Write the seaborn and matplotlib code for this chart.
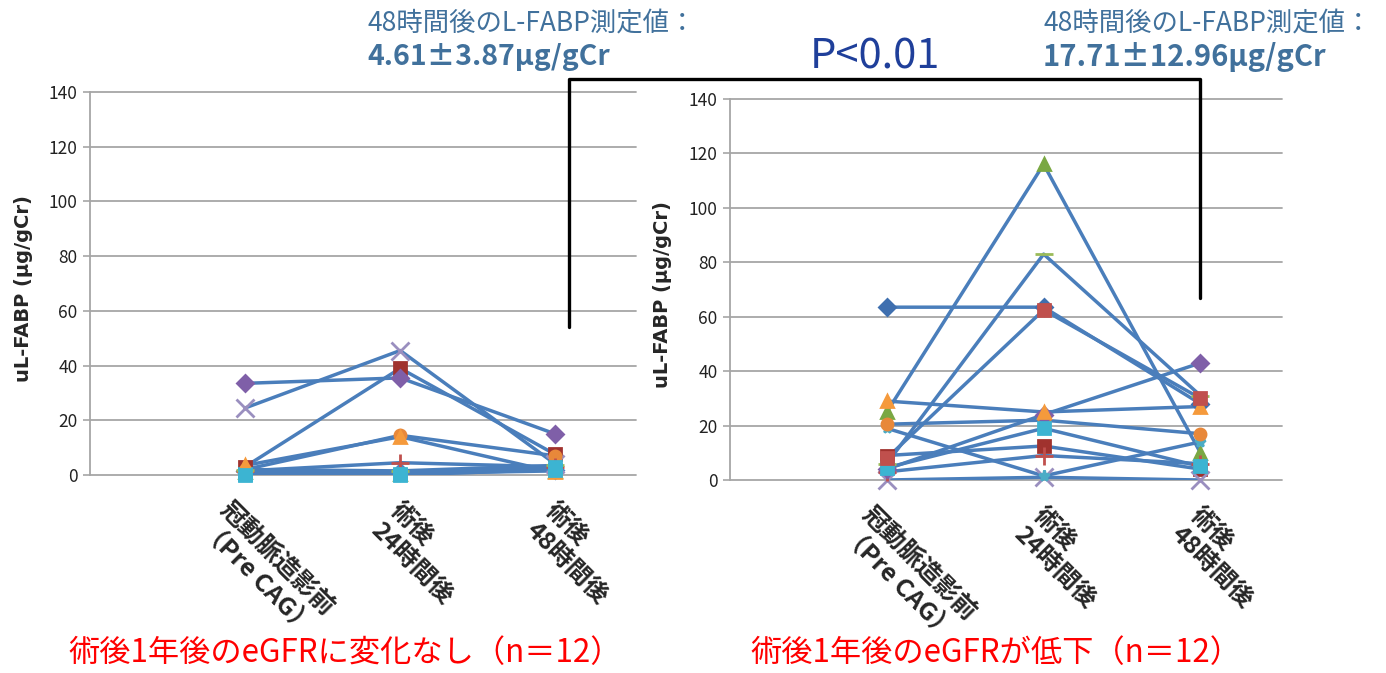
import matplotlib
matplotlib.use("Agg")
import matplotlib.pyplot as plt
import matplotlib.transforms as mtransforms
from matplotlib.lines import Line2D
import pandas as pd
import seaborn as sns

# time points (x categories)
TIME_LABELS = ["冠動脈造影前\n（Pre CAG）", "術後\n24時間後", "術後\n48時間後"]

# left panel: eGFR unchanged (n=12), values in ug/gCr
LEFT_PRE = [1.5, 3.0, 1.0, 24.5, 1.0, 2.0, 1.5, 2.0, 33.5, 0.5, 3.5, 0.0]
LEFT_24H = [1.0, 39.0, 0.5, 45.5, 0.5, 14.5, 4.5, 1.5, 35.5, 0.5, 14.0, 0.0]
LEFT_48H = [2.0, 7.5, 1.5, 4.0, 2.5, 7.0, 3.0, 3.5, 15.0, 3.0, 1.0, 2.0]

# right panel: eGFR decreased (n=12)
RIGHT_PRE = [63.5, 9.0, 25.0, 0.0, 19.0, 20.5, 3.0, 6.0, 4.0, 4.5, 29.0, 8.0]
RIGHT_24H = [63.5, 12.5, 116.0, 1.0, 1.5, 22.0, 9.0, 83.0, 24.0, 19.0, 25.0, 62.5]
RIGHT_48H = [28.0, 4.0, 10.0, 0.0, 14.0, 17.0, 6.0, 31.0, 43.0, 5.0, 27.0, 30.0]

Y_TICKS = [0, 20, 40, 60, 80, 100, 120, 140]

HEAD_TITLE = "48時間後のL-FABP測定値："
LEFT_STAT = "4.61±3.87μg/gCr"
RIGHT_STAT = "17.71±12.96μg/gCr"
P_TEXT = "P<0.01"
LEFT_CAPTION = "術後1年後のeGFRに変化なし（n＝12）"
RIGHT_CAPTION = "術後1年後のeGFRが低下（n＝12）"
Y_LABEL = "uL-FABP (μg/gCr)"

# per-series marker styles (Excel-like)
MARKERS = ["D", "s", "^", "x", "*", "o", "+", "_", "D", "s", "^", "s"]
LEFT_COLORS = ["#4F81BD", "#A0322E", "#8DB650", "#9A8FBF", "#4BACC6", "#E8883A",
               "#C0504D", "#9BBB59", "#7F5FA8", "#3CB4D2", "#F59A3C", "#3CB4D2"]
RIGHT_COLORS = ["#3F6FAF", "#A0322E", "#7AA843", "#9A8FBF", "#4BACC6", "#E8883A",
                "#C0504D", "#9BBB59", "#7F5FA8", "#3CB4D2", "#F59A3C", "#C0504D"]

LINE_COLOR = "#4A7EBB"
GRID_COLOR = "#A6A6A6"
HEAD_COLOR = "#41719C"
P_COLOR = "#1F3F9A"

W, H = 1386, 673


def to_long(pre, h24, h48):
    rows = []
    for i, vals in enumerate(zip(pre, h24, h48)):
        for t, v in enumerate(vals):
            rows.append({"subject": i, "t": t, "value": v})
    return pd.DataFrame(rows)


def draw_panel(ax, df, colors):
    sns.lineplot(data=df, x="t", y="value", units="subject", estimator=None,
                 color=LINE_COLOR, lw=2.5, ax=ax, zorder=3)
    for i, sub in df.groupby("subject"):
        m = MARKERS[i]
        ms = 13 if m in ("_", "x", "+") else 8
        ax.plot(sub["t"], sub["value"], linestyle="none", marker=m, ms=ms,
                mfc=colors[i], mec=colors[i], mew=2.0, zorder=4, clip_on=False)

    ax.set_xlim(-1.0, 2.52)
    ax.set_ylim(0, 140)
    ax.set_yticks(Y_TICKS)
    ax.set_xticks([])
    ax.set_xlabel("")
    ax.grid(False)
    for y in Y_TICKS:
        ax.axhline(y, color=GRID_COLOR, lw=1.3, zorder=1, clip_on=False)
    for s in ["top", "right", "bottom"]:
        ax.spines[s].set_visible(False)
    ax.spines["left"].set_color(GRID_COLOR)
    ax.spines["left"].set_linewidth(1.3)
    ax.tick_params(axis="y", length=5, width=1.2, color=GRID_COLOR, labelsize=12.5,
                   labelcolor="#222222", pad=4, left=True)
    ax.set_ylabel(Y_LABEL, fontsize=14, fontweight="bold", family=["DejaVu Sans"])
    ax.yaxis.set_label_coords(-0.105, 0.488)

    fig = ax.figure
    off = mtransforms.ScaledTranslation(0.21, 0, fig.dpi_scale_trans)
    trans = mtransforms.blended_transform_factory(ax.transData, ax.transAxes) + off
    for t, lab in enumerate(TIME_LABELS):
        ax.text(t, -0.06, lab, transform=trans, rotation=-45, rotation_mode="default",
                ha="center", va="top", multialignment="left", fontsize=18,
                fontweight="bold", linespacing=1.2)


sns.set_theme(style="white")
plt.rcParams["font.family"] = ["Noto Sans CJK JP", "DejaVu Sans"]

fig = plt.figure(figsize=(W / 100, H / 100), dpi=100)
ax_l = fig.add_axes([90 / W, 1 - 475 / H, 546 / W, 383 / H])
ax_r = fig.add_axes([730 / W, 1 - 480 / H, 552 / W, 381 / H])

draw_panel(ax_l, to_long(LEFT_PRE, LEFT_24H, LEFT_48H), LEFT_COLORS)
draw_panel(ax_r, to_long(RIGHT_PRE, RIGHT_24H, RIGHT_48H), RIGHT_COLORS)

# significance bracket
bx = [569, 569, 1200, 1200]
by = [327, 79, 79, 298]
fig.add_artist(Line2D([x / W for x in bx], [1 - y / H for y in by],
                      color="black", lw=2.4, solid_joinstyle="round"))

# header annotations
fig.text(367 / W, 1 - 24 / H, HEAD_TITLE, color=HEAD_COLOR, fontsize=19, va="center", ha="left")
fig.text(367 / W, 1 - 57 / H, LEFT_STAT, color=HEAD_COLOR, fontsize=20.5, fontweight="bold",
         va="center", ha="left")
fig.text(1043 / W, 1 - 24 / H, HEAD_TITLE, color=HEAD_COLOR, fontsize=19, va="center", ha="left")
fig.text(1043 / W, 1 - 57 / H, RIGHT_STAT, color=HEAD_COLOR, fontsize=21, fontweight="bold",
         va="center", ha="left")
fig.text(875 / W, 1 - 57 / H, P_TEXT, color=P_COLOR, fontsize=30, va="center", ha="center")

# captions
fig.text(68 / W, 1 - 653 / H, LEFT_CAPTION, color="#FF0000", fontsize=22.5, va="center", ha="left")
fig.text(750 / W, 1 - 653 / H, RIGHT_CAPTION, color="#FF0000", fontsize=22.5, va="center", ha="left")

fig.savefig("out.png", dpi=100)
